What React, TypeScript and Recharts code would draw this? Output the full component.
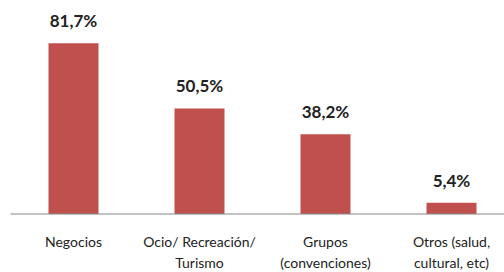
import React from 'react'
import { BarChart, Bar, XAxis, YAxis, LabelList } from 'recharts'

const categories = [
  'Negocios',
  'Ocio/ Recreación/\nTurismo',
  'Grupos\n(convenciones)',
  'Otros (salud,\ncultural, etc)'
]
const percentages = [81.7, 50.5, 38.2, 5.4]

const data = categories.map((name, i) => ({ name, value: percentages[i] }))

const FONT = 'Lato, "Open Sans", sans-serif'

// multi-line category label under the axis
const CategoryTick = ({ x, y, payload }: { x: number; y: number; payload: any }) => {
  const lines = String(payload.value).split('\n')
  return (
    <g transform={`translate(${x},${y})`}>
      {lines.map((line, idx) => (
        <text
          key={idx}
          x={0}
          y={25 + idx * 21}
          textAnchor="middle"
          fontSize={14}
          fontFamily={FONT}
          fill="#222"
        >
          {line}
        </text>
      ))}
    </g>
  )
}

const formatPct = (v: any) => `${Number(v).toFixed(1).replace('.', ',')}%`

export default function App() {
  return (
    <div style={{ position: 'absolute', left: 0, top: 0, width: 504, height: 272, overflow: 'hidden', background: '#fff' }}>
      <BarChart
        width={515}
        height={272}
        data={data}
        margin={{ top: 5, right: 0.5, left: 10.5, bottom: 0 }}
      >
        <XAxis
          dataKey="name"
          height={58}
          interval={0}
          tickLine={false}
          axisLine={{ stroke: '#868686', strokeWidth: 1 }}
          tick={(props: any) => <CategoryTick {...props} />}
        />
        <YAxis hide domain={[0, 100]} />
        <Bar dataKey="value" fill="#C0504D" barSize={50} isAnimationActive={false}>
          <LabelList
            dataKey="value"
            position="top"
            offset={16}
            formatter={formatPct}
            style={{ fontFamily: FONT, fontSize: 17, fontWeight: 700, fill: '#222' }}
          />
        </Bar>
      </BarChart>
    </div>
  )
}
